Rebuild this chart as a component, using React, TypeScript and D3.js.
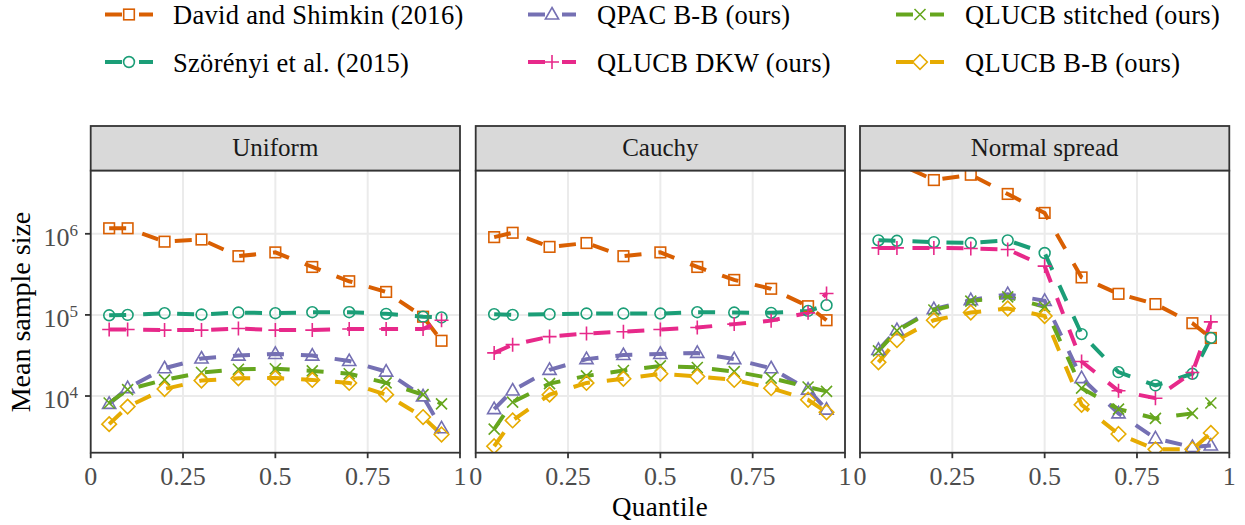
import React from 'react';
import * as d3 from 'd3';

const quantiles = [0.05, 0.1, 0.2, 0.3, 0.4, 0.5, 0.6, 0.7, 0.8, 0.9, 0.95];
const panelNames = ['Uniform', 'Cauchy', 'Normal spread'];
const seriesNames = [
  'David and Shimkin (2016)',
  'Szörényi et al. (2015)',
  'QPAC B-B (ours)',
  'QLUCB DKW (ours)',
  'QLUCB stitched (ours)',
  'QLUCB B-B (ours)',
];
const seriesColors = ['#D95F02', '#1B9E77', '#7570B3', '#E7298A', '#66A61E', '#E6AB02'];
const seriesShapes = ['square', 'circle', 'triangle', 'plus', 'cross', 'diamond'];
const xTicks = [0, 0.25, 0.5, 0.75, 1];
const xTickLabels = ['0', '0.25', '0.5', '0.75', '1'];
const yTicks = [1e4, 1e5, 1e6];
const yTickExponents = ['4', '5', '6'];

// Uniform
const davidUniform = [1.17e6, 1.17e6, 8.0e5, 8.5e5, 5.3e5, 5.9e5, 3.9e5, 2.6e5, 1.92e5, 9.5e4, 4.8e4];
const szorenyiUniform = [9.9e4, 1.0e5, 1.05e5, 1.01e5, 1.07e5, 1.05e5, 1.08e5, 1.08e5, 1.03e5, 9.5e4, 9.3e4];
const qpacUniform = [8.0e3, 1.25e4, 2.2e4, 2.9e4, 3.15e4, 3.3e4, 3.15e4, 2.7e4, 2.0e4, 9.9e3, 4.0e3];
const dkwUniform = [6.6e4, 6.6e4, 6.5e4, 6.5e4, 6.8e4, 6.5e4, 6.5e4, 6.7e4, 6.7e4, 6.7e4, 8.6e4];
const stitchedUniform = [8.2e3, 1.2e4, 1.58e4, 1.95e4, 2.14e4, 2.17e4, 2.04e4, 1.88e4, 1.45e4, 1.04e4, 8.0e3];
const bbUniform = [4.5e3, 7.4e3, 1.22e4, 1.55e4, 1.65e4, 1.67e4, 1.58e4, 1.45e4, 1.04e4, 5.5e3, 3.35e3];

// Cauchy
const davidCauchy = [9.1e5, 1.03e6, 6.9e5, 7.7e5, 5.3e5, 5.9e5, 3.9e5, 2.7e5, 2.1e5, 1.28e5, 8.6e4];
const szorenyiCauchy = [1.02e5, 1.0e5, 1.02e5, 1.04e5, 1.04e5, 1.04e5, 1.08e5, 1.07e5, 1.06e5, 1.12e5, 1.32e5];
const qpacCauchy = [6.9e3, 1.17e4, 2.1e4, 2.85e4, 3.2e4, 3.3e4, 3.4e4, 2.85e4, 2.2e4, 1.2e4, 6.8e3];
const dkwCauchy = [3.4e4, 4.3e4, 5.4e4, 5.9e4, 6.2e4, 6.6e4, 7.0e4, 7.7e4, 8.5e4, 1.06e5, 1.84e5];
const stitchedCauchy = [3.9e3, 8.4e3, 1.42e4, 1.77e4, 2.06e4, 2.35e4, 2.25e4, 2.0e4, 1.66e4, 1.29e4, 1.14e4];
const bbCauchy = [2.4e3, 5.0e3, 1.04e4, 1.45e4, 1.63e4, 1.88e4, 1.74e4, 1.58e4, 1.25e4, 9.0e3, 6.3e3];

// Normal spread
const davidNormal = [8.0e6, 7.5e6, 4.6e6, 5.35e6, 3.1e6, 1.81e6, 2.9e5, 1.82e5, 1.36e5, 7.9e4, 5.2e4];
const szorenyiNormal = [8.3e5, 8.2e5, 7.9e5, 7.7e5, 8.3e5, 5.8e5, 5.8e4, 1.97e4, 1.35e4, 1.88e4, 5.2e4];
const qpacNormal = [3.7e4, 6.5e4, 1.18e5, 1.52e5, 1.8e5, 1.49e5, 1.66e4, 6.1e3, 3.0e3, 2.35e3, 2.45e3];
const dkwNormal = [6.7e5, 6.7e5, 6.7e5, 6.6e5, 6.4e5, 4.0e5, 2.66e4, 1.16e4, 9.4e3, 1.95e4, 8.2e4];
const stitchedNormal = [3.6e4, 6.4e4, 1.15e5, 1.48e5, 1.67e5, 1.26e5, 1.25e4, 6.9e3, 5.3e3, 6.1e3, 8.2e3];
const bbNormal = [2.6e4, 4.9e4, 8.6e4, 1.07e5, 1.2e5, 9.7e4, 7.8e3, 3.4e3, 2.2e3, 2.2e3, 3.5e3];

const panelData = [
  [davidUniform, szorenyiUniform, qpacUniform, dkwUniform, stitchedUniform, bbUniform],
  [davidCauchy, szorenyiCauchy, qpacCauchy, dkwCauchy, stitchedCauchy, bbCauchy],
  [davidNormal, szorenyiNormal, qpacNormal, dkwNormal, stitchedNormal, bbNormal],
];

const W = 1245;
const H = 525;
const panelLefts = [90.7, 475.7, 860];
const panelWidth = 369.3;
const plotTop = 170.7;
const plotBottom = 452.7;
const stripTop = 126;
const FONT = '"Liberation Serif", "Times New Roman", serif';
const DASH = '17 17';
const LINE_W = 4;

function Marker({ shape, x, y, color }: { shape: string; x: number; y: number; color: string }) {
  const sw = 1.6;
  switch (shape) {
    case 'square':
      return <rect x={x - 5.3} y={y - 5.3} width={10.6} height={10.6} fill="none" stroke={color} strokeWidth={sw} />;
    case 'circle':
      return <circle cx={x} cy={y} r={5.4} fill="none" stroke={color} strokeWidth={sw} />;
    case 'triangle':
      return (
        <path
          d={`M${x},${y - 7} L${x + 6.6},${y + 4.5} L${x - 6.6},${y + 4.5} Z`}
          fill="none"
          stroke={color}
          strokeWidth={sw}
        />
      );
    case 'plus':
      return <path d={`M${x - 7},${y} H${x + 7} M${x},${y - 7} V${y + 7}`} stroke={color} strokeWidth={sw} />;
    case 'cross':
      return (
        <path
          d={`M${x - 5.5},${y - 5.5} L${x + 5.5},${y + 5.5} M${x - 5.5},${y + 5.5} L${x + 5.5},${y - 5.5}`}
          stroke={color}
          strokeWidth={sw}
        />
      );
    case 'diamond':
      return (
        <path
          d={`M${x},${y - 7.3} L${x + 7.3},${y} L${x},${y + 7.3} L${x - 7.3},${y} Z`}
          fill="none"
          stroke={color}
          strokeWidth={sw}
        />
      );
    default:
      return null;
  }
}

const legendCols = [
  { key: 129, text: 173 },
  { key: 552, text: 597 },
  { key: 920, text: 965 },
];
const legendRows = [14.5, 62];

export default function App() {
  const y = d3.scaleLog().domain([2000, 6e6]).range([plotBottom, plotTop]);

  return (
    <svg
      width={W}
      height={H}
      viewBox={`0 0 ${W} ${H}`}
      style={{ position: 'absolute', left: 0, top: 0, display: 'block', background: '#fff' }}
      fontFamily={FONT}
    >
      <defs>
        {panelLefts.map((left, i) => (
          <clipPath id={`clip${i}`} key={i}>
            <rect x={left} y={plotTop} width={panelWidth} height={plotBottom - plotTop} />
          </clipPath>
        ))}
      </defs>
      <rect x={0} y={0} width={W} height={H} fill="#fff" />

      {/* Legend */}
      {seriesNames.map((name, i) => {
        const col = legendCols[Math.floor(i / 2)];
        const ry = legendRows[i % 2];
        return (
          <g key={name}>
            <line
              x1={col.key - 24}
              x2={col.key + 24}
              y1={ry}
              y2={ry}
              stroke={seriesColors[i]}
              strokeWidth={LINE_W}
              strokeDasharray={DASH}
            />
            <Marker shape={seriesShapes[i]} x={col.key} y={ry} color={seriesColors[i]} />
            <text x={col.text} y={ry + 9.5} fontSize={26.5} fill="#000" letterSpacing={0.3}>
              {name}
            </text>
          </g>
        );
      })}

      {panelLefts.map((left, p) => {
        const x = d3.scaleLinear().domain([0, 1]).range([left, left + panelWidth]);
        const line = d3
          .line<number>()
          .x((_, i) => x(quantiles[i]))
          .y((v) => y(v));
        return (
          <g key={p}>
            {/* strip */}
            <rect
              x={left}
              y={stripTop}
              width={panelWidth}
              height={plotTop - stripTop}
              fill="#D9D9D9"
              stroke="#333333"
              strokeWidth={1.8}
            />
            <text x={left + panelWidth / 2} y={156} textAnchor="middle" fontSize={25} fill="#1A1A1A">
              {panelNames[p]}
            </text>
            {/* panel background and grid */}
            <rect x={left} y={plotTop} width={panelWidth} height={plotBottom - plotTop} fill="#fff" />
            {xTicks.map((t) => (
              <line key={`gx${t}`} x1={x(t)} x2={x(t)} y1={plotTop} y2={plotBottom} stroke="#EBEBEB" strokeWidth={2} />
            ))}
            {yTicks.map((t) => (
              <line key={`gy${t}`} x1={left} x2={left + panelWidth} y1={y(t)} y2={y(t)} stroke="#EBEBEB" strokeWidth={2} />
            ))}
            {/* data */}
            <g clipPath={`url(#clip${p})`}>
              {panelData[p].map((vals, s) => (
                <path
                  key={`l${s}`}
                  d={line(vals) || ''}
                  fill="none"
                  stroke={seriesColors[s]}
                  strokeWidth={LINE_W}
                  strokeDasharray={DASH}
                />
              ))}
              {panelData[p].map((vals, s) =>
                vals.map((v, i) => (
                  <Marker key={`m${s}-${i}`} shape={seriesShapes[s]} x={x(quantiles[i])} y={y(v)} color={seriesColors[s]} />
                ))
              )}
            </g>
            {/* border */}
            <rect
              x={left}
              y={plotTop}
              width={panelWidth}
              height={plotBottom - plotTop}
              fill="none"
              stroke="#333333"
              strokeWidth={1.8}
            />
            {/* x axis ticks */}
            {xTicks.map((t, i) => (
              <g key={`xt${t}`}>
                <line x1={x(t)} x2={x(t)} y1={plotBottom} y2={plotBottom + 5.5} stroke="#333333" strokeWidth={1.8} />
                <text x={x(t)} y={485} textAnchor="middle" fontSize={26} fill="#4D4D4D">
                  {xTickLabels[i]}
                </text>
              </g>
            ))}
          </g>
        );
      })}

      {/* y axis ticks */}
      {yTicks.map((t, i) => (
        <g key={`yt${t}`}>
          <line x1={85} x2={panelLefts[0]} y1={y(t)} y2={y(t)} stroke="#333333" strokeWidth={1.8} />
          <text x={78} y={y(t) + 12} textAnchor="end" fontSize={26} fill="#4D4D4D">
            10
            <tspan fontSize={17} dy={-10}>
              {yTickExponents[i]}
            </tspan>
          </text>
        </g>
      ))}

      {/* axis titles */}
      <text x={660} y={516} textAnchor="middle" fontSize={27} fill="#000" letterSpacing={0.4}>
        Quantile
      </text>
      <text transform={`translate(30,312) rotate(-90)`} textAnchor="middle" fontSize={28} fill="#000">
        Mean sample size
      </text>
    </svg>
  );
}
